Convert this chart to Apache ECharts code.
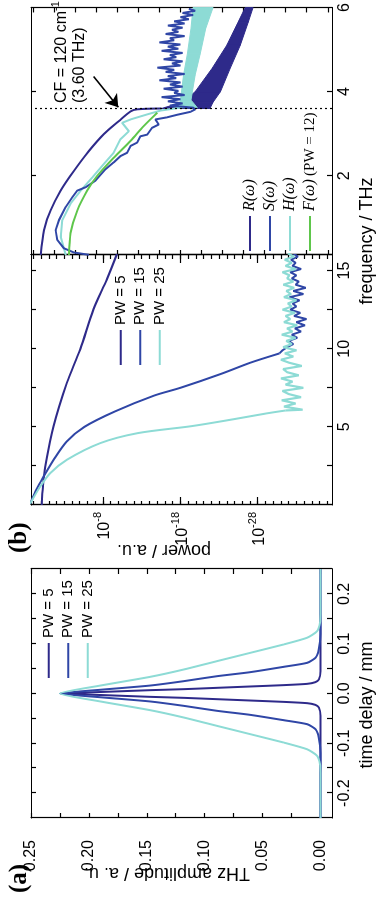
<!DOCTYPE html>
<html><head><meta charset="utf-8">
<script src="https://cdn.jsdelivr.net/npm/echarts@6/dist/echarts.min.js"></script>
<style>
html,body{margin:0;padding:0;background:#fff;overflow:hidden;width:376px;height:903px;}
#wrap{position:absolute;left:0;top:0;width:903px;height:376px;transform-origin:0 0;transform:translateY(903px) rotate(-90deg);}
#chart{width:903px;height:376px;background:#fff;}
</style></head><body>
<div id="wrap"><div id="chart"></div></div>
<script>
const FONT = "'Liberation Sans', Arial, Helvetica, sans-serif";
const SERIF = "'Liberation Serif', 'Times New Roman', serif";
const NAVY = '#2e2a8a', BLUE = '#2f46a6', CYAN = '#8ddbd5', GREEN = '#5ec64b';

// ---------- Panel (a): THz amplitude vs time delay ----------
const aTicksX = [-0.2,-0.15,-0.1,-0.05,0,0.05,0.1,0.15,0.2];
const aLabelsX = [-0.2,-0.1,0,0.1,0.2];
const aTicksY = [0,0.025,0.05,0.075,0.1,0.125,0.15,0.175,0.2,0.225,0.25];
const aLabelsY = [0,0.05,0.1,0.15,0.2,0.25];
const aT5  = [-0.25,-0.045,-0.0281,-0.0228,-0.0194,-0.0168,-0.0141,-0.0114,-0.0087,-0.0067,-0.003,0,0.003,0.0067,0.0087,0.0114,0.0141,0.0168,0.0194,0.0228,0.0281,0.045,0.25];
const aA5  = [0,0,0.0014,0.0043,0.0115,0.0317,0.0605,0.0893,0.118,0.147,0.19,0.225,0.19,0.147,0.118,0.0893,0.0605,0.0317,0.0115,0.0043,0.0014,0,0];
const aT15 = [-0.25,-0.12,-0.0884,-0.0717,-0.0616,-0.0536,-0.0429,-0.0348,-0.0248,-0.016,-0.0075,0,0.0075,0.016,0.0248,0.0348,0.0429,0.0536,0.0616,0.0717,0.0884,0.12,0.25];
const aA15 = [0,0,0.0014,0.0043,0.0115,0.0317,0.0605,0.0893,0.118,0.147,0.19,0.225,0.19,0.147,0.118,0.0893,0.0605,0.0317,0.0115,0.0043,0.0014,0,0];
const aT25 = [-0.25,-0.16,-0.142,-0.125,-0.112,-0.0985,-0.0817,-0.065,-0.0482,-0.0335,-0.016,0,0.016,0.0335,0.0482,0.065,0.0817,0.0985,0.112,0.125,0.142,0.16,0.25];
const aA25 = [0,0,0.0003,0.0029,0.0115,0.0317,0.0605,0.0893,0.118,0.147,0.19,0.225,0.19,0.147,0.118,0.0893,0.0605,0.0317,0.0115,0.0029,0.0003,0,0];

// ---------- Panel (b): power (log10) vs frequency ----------
const bTicksX = [2.5,5,7.5,10,12.5,15];
const bLabelsX = [5,10,15];
const bMajorY = [-8,-18,-28];
const bMinorY = [-37,-36,-35,-34,-33,-32,-31,-30,-29,-28,-27,-26,-25,-24,-23,-22,-21,-20,-19,-18,-17,-16,-15,-14,-13,-12,-11,-10,-9,-8,-7,-6,-5,-4,-3,-2,-1,0,1];
const b5F = [0,1.2,2.46,5.03,7.82,9.96,12.53,14.46,16.07];
const b5L = [-0.1,-0.25,-0.54,-1.61,-3.34,-5.06,-6.78,-8.52,-9.81];
const b15F = [0.09,1.05,1.8,2.87,4.05,5.0,6.0,7.0,7.5,8.4,9.1,9.7];
const b15L = [1.4,0.55,-0.3,-1.6,-3.3,-5.6,-9.6,-14.6,-18.0,-23.3,-27.0,-30.8];
const b15NoiseF = [9.9,10.1,10.3,10.5,10.7,10.9,11.1,11.3,11.5,11.7,11.9,12.1,12.3,12.5,12.7,12.9,13.1,13.3,13.5,13.7,13.9,14.1,14.3,14.5,14.7,14.9,15.1,15.3,15.5,15.7,15.9,16.1];
const b15NoiseL = [-31.2,-31.8,-32.6,-32.0,-33.1,-32.4,-33.6,-32.8,-34.1,-33.0,-34.3,-32.7,-33.5,-32.2,-33.0,-32.5,-33.4,-32.1,-33.9,-32.6,-34.2,-32.9,-33.3,-32.4,-33.0,-32.2,-33.6,-32.5,-32.9,-32.3,-33.2,-32.6];
const b25F = [0.09,1.18,2.04,2.9,3.96,4.6,5.05,5.5,5.85,6.05];
const b25L = [1.4,0.11,-1.18,-3.34,-7.65,-12.5,-19.5,-25.0,-29.0,-31.6];
const b25NoiseF = [6.1,6.3,6.5,6.7,6.9,7.1,7.3,7.5,7.7,7.9,8.1,8.3,8.5,8.7,8.9,9.1,9.3,9.5,9.7,9.9,10.1,10.3,10.5,10.7,10.9,11.1,11.3,11.5,11.7,11.9,12.1,12.3,12.5,12.7,12.9,13.1,13.3,13.5,13.7,13.9,14.1,14.3,14.5,14.7,14.9,15.1,15.3,15.5,15.7,15.9,16.1];
const b25NoiseL = [-33.8,-31.4,-32.9,-31.1,-33.6,-32.0,-31.2,-33.9,-31.6,-32.5,-31.0,-33.3,-31.8,-31.3,-33.7,-32.1,-31.0,-32.6,-31.5,-33.0,-31.3,-32.4,-31.7,-32.9,-31.1,-32.5,-31.8,-33.1,-31.4,-32.2,-31.6,-32.8,-31.2,-32.4,-31.9,-33.0,-31.4,-32.3,-31.7,-32.7,-31.3,-32.6,-31.8,-32.1,-31.2,-32.9,-31.6,-32.4,-31.5,-32.7,-31.9];

// ---------- Panel (c): filters, 0-6 THz (relative log power, unlabeled) ----------
const cTicksX = [2,4];
const cLabelsX = [2,4,6];
const cTicksY = [0,1,2,3,4,5,6,7,8,9,10,11,12,13,14];
const cutoffTHz = 3.6;
const arrowFrom = [4.36, 11.13], arrowTo = [3.63, 9.95];
const cRF = [0.12,0.71,1.18,1.65,2.12,2.59,2.99,3.30,3.53,3.58,3.60];
const cRV = [13.64,13.48,13.17,12.69,12.06,11.35,10.64,9.93,9.37,9.06,7.9];
const cRBandF = [3.6,3.75,4.0,4.55,5.1,5.65,6.0];
const cRBandHi = [7.9,6.9,6.3,5.5,4.8,4.26,3.92];
const cRBandLo = [5.6,5.45,5.1,4.64,4.16,3.78,3.55];
const cSF = [0.125,0.18,0.28,0.48,0.71,0.95,1.26,1.49,1.65,1.73,1.89,2.16,2.32,2.47,2.55,2.71,2.79,2.94,2.98,3.14,3.22,3.34,3.39,3.45,3.52,3.58];
const cSV = [11.35,12.06,12.54,12.85,12.93,12.77,12.45,12.14,11.9,11.5,11.03,10.56,10.17,9.85,9.53,9.37,9.06,8.9,8.58,8.35,8.03,8.19,7.64,7.16,6.53,6.3];
const cSNoiseF = [3.62,3.67,3.72,3.77,3.82,3.87,3.92,3.97,4.02,4.07,4.12,4.17,4.22,4.27,4.32,4.37,4.42,4.47,4.52,4.57,4.62,4.67,4.72,4.77,4.82,4.87,4.92,4.97,5.02,5.07,5.12,5.17,5.22,5.27,5.32,5.37,5.42,5.47,5.52,5.57,5.62,5.67,5.72,5.77,5.82,5.87,5.92,5.97];
const cSNoiseV = [6.4,7.5,6.9,7.6,7.0,7.9,6.8,7.3,7.1,7.8,6.9,7.5,7.0,8.0,7.2,7.6,6.8,7.7,7.3,8.1,7.0,7.4,6.9,7.8,7.2,7.5,6.9,7.9,7.1,7.6,7.0,8.0,7.3,7.5,6.8,7.7,7.1,7.4,6.9,7.6,6.8,7.3,6.6,7.0,6.4,6.9,6.3,6.6];
const cHF = [0.12,0.16,0.55,0.95,1.34,1.65,1.96,2.28,2.55,2.87,3.06,3.26,3.34,3.46,3.55,3.62];
const cHV = [12.45,12.54,12.69,12.61,12.22,11.74,11.19,10.64,10.17,9.85,9.45,9.77,9.37,8.58,7.95,7.0];
const cHBandF = [3.62,3.8,4.4,4.9,5.5,6.0];
const cHBandHi = [7.1,7.0,6.85,6.67,6.5,6.4];
const cHBandLo = [6.2,6.5,6.3,6.06,5.8,5.45];
const cFF = [0.12,0.64,1.18,1.65,2.0,2.43,2.83,3.18,3.5];
const cFV = [12.3,12.22,11.9,11.43,10.95,10.17,9.37,8.75,8.1];

const zip = (xs, ys) => xs.map((x, i) => [x, ys[i]]);
const last = (xs, ys) => [[xs[xs.length - 1], ys[ys.length - 1]]];
const black = '#000';
const lineW = 1.2;

function ax(grid, pos, min, max, ticks, tickLen, labels, fmt, extraLabel) {
  const o = {
    type: 'value', gridIndex: grid, position: pos, min: min, max: max,
    axisLine: {show: true, onZero: false, lineStyle: {color: black, width: lineW}},
    axisTick: {show: true, inside: true, length: tickLen, customValues: ticks, lineStyle: {color: black, width: lineW}},
    axisLabel: {show: false},
    splitLine: {show: false}
  };
  if (labels) {
    o.axisLabel = Object.assign({show: true, customValues: labels, formatter: fmt, color: black,
      fontSize: 16, fontFamily: FONT, margin: 5, hideOverlap: false}, extraLabel || {});
  }
  return o;
}

const supRich = {
  b: {fontSize: 16, fontFamily: FONT, color: black, lineHeight: 20, verticalAlign: 'bottom'},
  s: {fontSize: 11, fontFamily: FONT, color: black, lineHeight: 12, verticalAlign: 'top'}
};

const xAxis = [
  ax(0, 'bottom', -0.25, 0.25, aTicksX, 5, aLabelsX, v => v.toFixed(1)),
  ax(0, 'top', -0.25, 0.25, aTicksX, 5),
  ax(1, 'bottom', 0, 16, bTicksX, 5, bLabelsX, v => String(v)),
  ax(1, 'top', 0, 16, bTicksX, 5),
  ax(2, 'bottom', 0.12, 6, cTicksX, 5, cLabelsX, v => String(v)),
  ax(2, 'top', 0.12, 6, cTicksX, 5)
];
const yAxis = [
  ax(0, 'left', -0.01, 0.25, aTicksY, 5, aLabelsY, v => v.toFixed(2), {margin: 22}),
  ax(0, 'right', -0.01, 0.25, aTicksY, 5),
  ax(1, 'left', -37.6, 1.3, bMajorY, 8, bMajorY, v => '{b|10}{s|' + v + '}', {margin: 7, rich: supRich}),
  ax(1, 'left', -37.6, 1.3, bMinorY, 4),
  ax(1, 'right', -37.6, 1.3, bMajorY, 8),
  ax(1, 'right', -37.6, 1.3, bMinorY, 4),
  ax(2, 'left', -0.2, 14.1, cTicksY, 5),
  ax(2, 'right', -0.2, 14.1, cTicksY, 5)
];

function line(name, xi, yi, data, color, width, extra) {
  return Object.assign({
    name: name, type: 'line', xAxisIndex: xi, yAxisIndex: yi, data: data,
    symbol: 'none', showSymbol: false, color: color,
    itemStyle: {color: color}, lineStyle: {color: color, width: width || 2},
    clip: true, silent: true, animation: false, z: 2
  }, extra || {});
}

// filled band between a lower and an upper envelope (dense oscillation region)
function band(name, xi, yi, fs, lo, hi, color) {
  return {
    type: 'custom', name: name, xAxisIndex: xi, yAxisIndex: yi, silent: true, animation: false,
    clip: true, z: 2, color: color,
    data: fs.map((f, i) => [f, lo[i], hi[i]]),
    encode: {x: 0, y: [1, 2]},
    renderItem: function (params, api) {
      const i = params.dataIndex;
      if (i >= fs.length - 1) return null;
      const p1 = api.coord([fs[i], hi[i]]), p2 = api.coord([fs[i + 1], hi[i + 1]]);
      const p3 = api.coord([fs[i + 1], lo[i + 1]]), p4 = api.coord([fs[i], lo[i]]);
      return {type: 'polygon', shape: {points: [p1, p2, p3, p4]},
        style: {fill: color, stroke: color, lineWidth: 1}};
    }
  };
}

const series = [
  line('PW = 5', 0, 0, zip(aT5, aA5), NAVY, 2, {smooth: 0.2}),
  line('PW = 15', 0, 0, zip(aT15, aA15), BLUE, 2, {smooth: 0.2}),
  line('PW = 25', 0, 0, zip(aT25, aA25), CYAN, 2, {smooth: 0.2}),

  line('PW = 5', 2, 2, zip(b5F, b5L), NAVY, 2, {smooth: 0.3}),
  line('PW = 15', 2, 2, zip(b15F, b15L), BLUE, 2, {smooth: 0.3}),
  line('PW = 15', 2, 2, last(b15F, b15L).concat(zip(b15NoiseF, b15NoiseL)), BLUE, 2),
  line('PW = 25', 2, 2, zip(b25F, b25L), CYAN, 2, {smooth: 0.3}),
  line('PW = 25', 2, 2, last(b25F, b25L).concat(zip(b25NoiseF, b25NoiseL)), CYAN, 2.2),

  band('R band', 4, 6, cRBandF, cRBandLo, cRBandHi, NAVY),
  line('R(ω)', 4, 6, zip(cRF, cRV), NAVY, 2, {smooth: 0.3,
    markLine: {silent: true, symbol: ['none', 'none'], label: {show: false}, animation: false,
      lineStyle: {color: black, type: [2, 3], width: 1.2},
      data: [{xAxis: cutoffTHz}]}}),
  band('H band', 4, 6, cHBandF, cHBandLo, cHBandHi, CYAN),
  line('H(ω)', 4, 6, zip(cHF, cHV), CYAN, 2),
  line('S(ω)', 4, 6, zip(cSF, cSV).concat(zip(cSNoiseF, cSNoiseV)), BLUE, 2),
  line('F(ω) (PW = 12)', 4, 6, zip(cFF, cFV), GREEN, 2, {smooth: 0.3,
    markLine: {silent: true, symbol: ['none', 'arrow'], symbolSize: 12, label: {show: false}, animation: false,
      lineStyle: {color: black, type: 'solid', width: 1.6},
      data: [[{coord: arrowFrom}, {coord: arrowTo}]]}})
];

const legendBase = {
  orient: 'vertical', icon: 'rect', itemWidth: 35, itemHeight: 2, itemGap: 0, padding: 0,
  selectedMode: false
};
const legend = [
  Object.assign({}, legendBase, {left: 225, top: 39, data: ['PW = 5', 'PW = 15', 'PW = 25'],
    textStyle: {fontSize: 15, fontFamily: FONT, color: black, lineHeight: 19.5}}),
  Object.assign({}, legendBase, {left: 538, top: 111, data: ['PW = 5', 'PW = 15', 'PW = 25'],
    textStyle: {fontSize: 15, fontFamily: FONT, color: black, lineHeight: 19.5}}),
  Object.assign({}, legendBase, {left: 652, top: 240, data: ['R(ω)', 'S(ω)', 'H(ω)', 'F(ω) (PW = 12)'],
    formatter: n => n.indexOf('F(') === 0 ? '{i|F(ω)} {n|(PW = 12)}' : '{i|' + n + '}',
    textStyle: {color: black, lineHeight: 20, rich: {
      i: {fontSize: 16, fontFamily: SERIF, fontStyle: 'italic', color: black, lineHeight: 20},
      n: {fontSize: 15, fontFamily: SERIF, color: black, lineHeight: 20}}}})
];

const graphic = [
  {type: 'text', left: 10, top: 7, style: {text: '(a)', font: "bold 25px 'Liberation Serif', 'Times New Roman', serif", fill: black}},
  {type: 'text', left: 350, top: 7, style: {text: '(b)', font: "bold 25px 'Liberation Serif', 'Times New Roman', serif", fill: black}},
  {type: 'text', x: 30, y: 167, rotation: Math.PI / 2, style: {text: 'THz amplitude / a. u.', font: "18px " + FONT, fill: black, align: 'center', verticalAlign: 'middle'}},
  {type: 'text', x: 198, y: 367, style: {text: 'time delay / mm', font: "18px " + FONT, fill: black, align: 'center', verticalAlign: 'middle'}},
  {type: 'text', x: 353, y: 164, rotation: Math.PI / 2, style: {text: 'power / a.u.', font: "18px " + FONT, fill: black, align: 'center', verticalAlign: 'middle'}},
  {type: 'text', x: 662, y: 367, style: {text: 'frequency / THz', font: "18px " + FONT, fill: black, align: 'center', verticalAlign: 'middle'}},
  {type: 'text', x: 800, y: 60, style: {text: '{m|CF = 120 cm}{s|-1}', align: 'left', verticalAlign: 'middle',
    rich: {m: {fontSize: 16, fontFamily: FONT, fill: black, lineHeight: 20, verticalAlign: 'bottom'},
           s: {fontSize: 11, fontFamily: FONT, fill: black, lineHeight: 12, verticalAlign: 'top'}}}},
  {type: 'text', x: 800, y: 80, style: {text: '(3.60 THz)', font: "16px " + FONT, fill: black, align: 'left', verticalAlign: 'middle'}}
];

const chart = echarts.init(document.getElementById('chart'), null, {renderer: 'canvas', width: 903, height: 376});
chart.setOption({
  animation: false,
  backgroundColor: '#fff',
  grid: [
    {left: 85, top: 31, width: 249, height: 301},
    {left: 398, top: 31, width: 250, height: 301},
    {left: 648, top: 31, width: 249, height: 301}
  ],
  xAxis: xAxis, yAxis: yAxis, legend: legend, graphic: graphic, series: series
});
</script>
</body></html>
